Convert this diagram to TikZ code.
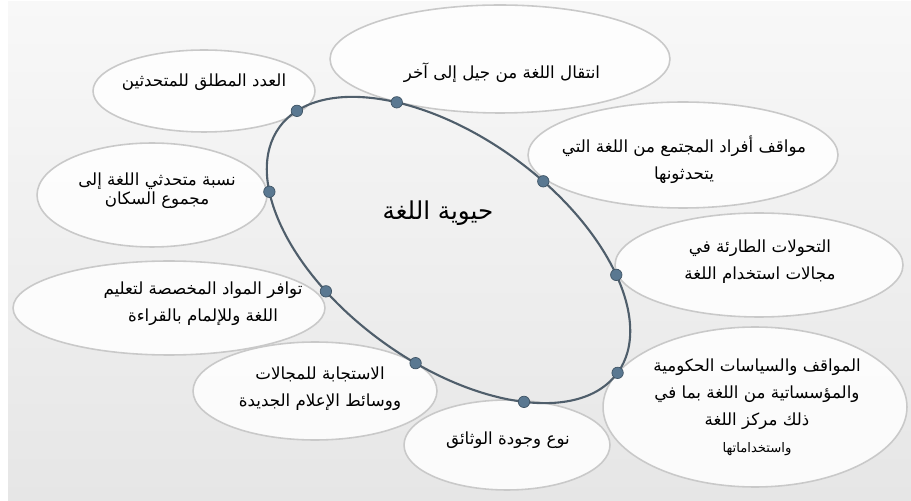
\documentclass[tikz,border=0pt]{standalone}
\usepackage{fontspec}
\usepackage{xcolor}
\usepackage{tikz}
\usetikzlibrary{shapes.geometric}
\TeXXeTstate=1
\newfontfamily\arabicfont[Script=Arabic]{DejaVu Sans}
\newcommand{\ar}[1]{\beginR #1\endR}
\definecolor{ringline}{HTML}{4F5E6B}
\definecolor{dotfill}{HTML}{5A7891}
\definecolor{bubbleline}{HTML}{C9C9C9}
\definecolor{bgtop}{HTML}{F8F8F8}
\definecolor{bgbot}{HTML}{E6E6E6}

\begin{document}
\begin{tikzpicture}[x=0.02cm, y=0.02cm,
  bubble/.style={ellipse, draw=bubbleline, line width=0.9pt, fill=white, fill opacity=0.85, inner sep=0pt},
  lbl/.style={font=\arabicfont\fontsize{9.5}{15.3}\selectfont, align=center, text=black, inner sep=0pt},
  ring/.style={draw=ringline, line width=1.2pt},
  ringdot/.style={circle, fill=dotfill, draw=dotfill!70!black, line width=0.4pt, inner sep=0pt, minimum size=6.5pt}]
  \useasboundingbox (0,0) rectangle (911,500);
  \fill[top color=bgtop, bottom color=bgbot] (8,0) rectangle (911,498);
  % bubbles
  \node[bubble, minimum width=4.44cm, minimum height=1.64cm] (adad) at (204,409) {};
  \node[bubble, minimum width=6.8cm, minimum height=2.16cm] (intiqal) at (500,441) {};
  \node[bubble, minimum width=6.2cm, minimum height=2.12cm] (mawaqif) at (683,345) {};
  \node[bubble, minimum width=5.76cm, minimum height=2.08cm] (tahawwul) at (759,235) {};
  \node[bubble, minimum width=6.08cm, minimum height=3.2cm] (siyasat) at (755,93) {};
  \node[bubble, minimum width=4.12cm, minimum height=1.8cm] (naw) at (507,55) {};
  \node[bubble, minimum width=4.88cm, minimum height=1.96cm] (istijaba) at (315,109) {};
  \node[bubble, minimum width=6.24cm, minimum height=1.88cm] (tawafur) at (169,192) {};
  \node[bubble, minimum width=4.6cm, minimum height=2.08cm] (nisba) at (152,305) {};
  % ring with its dots
  \begin{scope}[shift={(448.5,250)}, rotate=-36]
    \draw[ring] (0,0) ellipse [x radius=209, y radius=113];
    \node[ringdot] (d1) at (0:209 and 113) {};
    \node[ringdot] (d2) at (44:209 and 113) {};
    \node[ringdot] (d3) at (80:209 and 113) {};
    \node[ringdot] (d4) at (128:209 and 113) {};
    \node[ringdot] (d5) at (168:209 and 113) {};
    \node[ringdot] (d6) at (211:209 and 113) {};
    \node[ringdot] (d7) at (249:209 and 113) {};
    \node[ringdot] (d8) at (281:209 and 113) {};
    \node[ringdot] (d9) at (316:209 and 113) {};
  \end{scope}
  % texts
  \node[lbl, font=\arabicfont\fontsize{14}{16}\selectfont] (title) at (438,287) {\ar{حيوية اللغة}};
  \node[lbl] (adadtxt) at (204,418) {\ar{العدد المطلق للمتحدثين}};
  \node[lbl] (intiqaltxt) at (502,427) {\ar{انتقال اللغة من جيل إلى آخر}};
  \node[lbl] (mawaqiftxt) at (684,340) {\ar{مواقف أفراد المجتمع من اللغة التي}\\\ar{يتحدثونها}};
  \node[lbl] (tahawwultxt) at (760,238) {\ar{التحولات الطارئة في}\\\ar{مجالات استخدام اللغة}};
  \node[lbl] (siyasattxt) at (757,93) {\ar{المواقف والسياسات الحكومية}\\\ar{والمؤسساتية من اللغة بما في}\\\ar{ذلك مركز اللغة}\\{\fontsize{7.5}{15.3}\selectfont\ar{واستخداماتها}}};
  \node[lbl] (nawtxt) at (508,60) {\ar{نوع وجودة الوثائق}};
  \node[lbl] (istijabatxt) at (320,111) {\ar{الاستجابة للمجالات}\\\ar{ووسائط الإعلام الجديدة}};
  \node[lbl] (tawafurtxt) at (203,196) {\ar{توافر المواد المخصصة لتعليم}\\\ar{اللغة وللإلمام بالقراءة}};
  \node[lbl, font=\arabicfont\fontsize{9.5}{11}\selectfont] (nisbatxt) at (157,309) {\ar{نسبة متحدثي اللغة إلى}\\\ar{مجموع السكان}};
\end{tikzpicture}
\end{document}
